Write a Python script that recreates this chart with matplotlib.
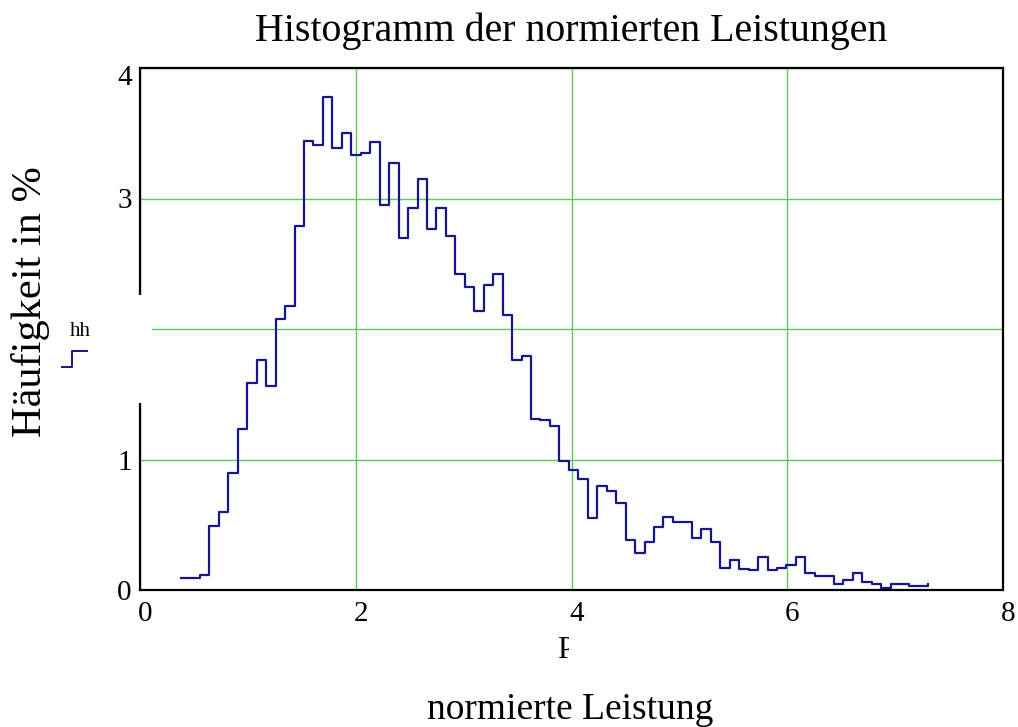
import numpy as np
import matplotlib
matplotlib.use("Agg")
import matplotlib.pyplot as plt
from matplotlib.patches import Rectangle
from matplotlib.lines import Line2D
from matplotlib.transforms import ScaledTranslation

# histogram bins of the normalised power (Mathcad step trace)
p_start = 0.38
p_step = 0.0877

# frequency in % per bin
hh = [0.094, 0.094, 0.118, 0.49, 0.60, 0.894, 1.23, 1.59, 1.76, 1.56,
      2.08, 2.18, 2.79, 3.44, 3.41, 3.78, 3.39, 3.50, 3.33, 3.35,
      3.43, 2.95, 3.27, 2.70, 2.93, 3.15, 2.77, 2.93, 2.71, 2.42,
      2.32, 2.14, 2.34, 2.42, 2.11, 1.76, 1.79, 1.31, 1.30, 1.26,
      0.99, 0.92, 0.85, 0.55, 0.80, 0.76, 0.67, 0.385, 0.28, 0.37,
      0.48, 0.56, 0.52, 0.52, 0.40, 0.47, 0.37, 0.17, 0.23, 0.16,
      0.15, 0.25, 0.15, 0.17, 0.19, 0.25, 0.13, 0.11, 0.11, 0.046,
      0.077, 0.13, 0.06, 0.043, 0.013, 0.046, 0.046, 0.03, 0.03, 0.046]

x_ticks = [0, 2, 4, 6, 8]
y_ticks = [0, 1, 2, 3, 4]
y_ticklabels = ["0", "1", "", "3", "4"]

p = p_start + p_step * np.arange(len(hh))

plt.rcParams['font.family'] = ['Liberation Serif', 'DejaVu Serif']

W, H = 1018, 727
fig = plt.figure(figsize=(W / 100, H / 100), dpi=100)
ax = fig.add_axes([140 / W, 1 - 590 / H, 863 / W, 522 / H])

ax.step(p, hh, where='post', color='#16168a', lw=1.6, zorder=2)

ax.set_xlim(0, 8)
ax.set_ylim(0, 4)
ax.set_xticks(x_ticks)
ax.set_yticks(y_ticks)
ax.set_yticklabels(y_ticklabels)
ax.tick_params(length=0, labelsize=21)
ax.tick_params(axis='x', pad=8)
ax.tick_params(axis='y', pad=6)
ax.grid(True, color='#5cc85c', lw=1.0)
ax.set_axisbelow(True)
for s in ax.spines.values():
    s.set_linewidth(1.6)
    s.set_color('black')

# Mathcad puts the x labels a little to the right, the top y label lower
for lab in ax.get_xticklabels():
    lab.set_transform(lab.get_transform() + ScaledTranslation(5 / 100, 0, fig.dpi_scale_trans))
top_lab = ax.get_yticklabels()[-1]
top_lab.set_transform(top_lab.get_transform() + ScaledTranslation(0, -7 / 100, fig.dpi_scale_trans))

# gap in the left frame where the trace legend sits
ax.add_patch(Rectangle((128 / W, 1 - 403 / H), 24 / W, 108 / H,
                       transform=fig.transFigure, facecolor='white',
                       edgecolor='none', zorder=3, clip_on=False))

fig.text(571 / W, 1 - 31 / H, "Histogramm der normierten Leistungen",
         ha='center', va='center', fontsize=28.7)
fig.text(31 / W, 1 - 302 / H, "Häufigkeit in %", rotation=90,
         ha='center', va='center', fontsize=30.5)
fig.text(570 / W, 1 - 710 / H, "normierte Leistung",
         ha='center', va='center', fontsize=27)

# trace legend
fig.text(80 / W, 1 - 331 / H, "hh", ha='center', va='center', fontsize=15)
fig.add_artist(Line2D(np.array([62, 72, 72, 87]) / W,
                      1 - np.array([367, 367, 351, 351]) / H,
                      color='#16168a', lw=1.4, transform=fig.transFigure))

# x-axis variable name, cut off as in the original
t = fig.text(566 / W, 1 - 651 / H, "P", ha='center', va='center', fontsize=22)
t.set_clip_path(Rectangle((0, 0), 569 / W, 1, transform=fig.transFigure))

fig.savefig("out.png", dpi=100)
